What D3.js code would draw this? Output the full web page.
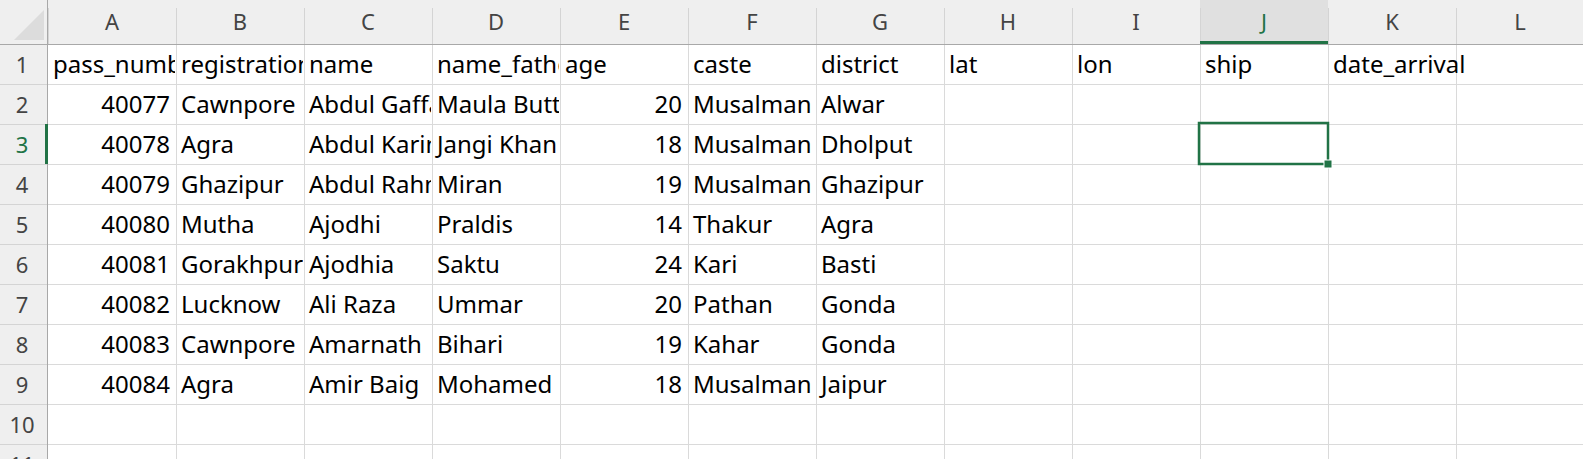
<!DOCTYPE html>
<html><head><meta charset="utf-8">
<script src="https://cdn.jsdelivr.net/npm/d3@7"></script>
<style>body{margin:0;background:#fff}svg{display:block}</style>
</head><body><svg id="sheet"></svg>
<script>
const colLetters = ["A","B","C","D","E","F","G","H","I","J","K","L"]
const rowNumbers = [1,2,3,4,5,6,7,8,9,10,11]
const headers = ["pass_number","registration","name","name_father","age","caste","district","lat","lon","ship","date_arrival"]
const passNumber = [40077,40078,40079,40080,40081,40082,40083,40084]
const registration = ["Cawnpore","Agra","Ghazipur","Mutha","Gorakhpur","Lucknow","Cawnpore","Agra"]
const names = ["Abdul Gaffar","Abdul Karim","Abdul Rahman","Ajodhi","Ajodhia","Ali Raza","Amarnath","Amir Baig"]
const nameFather = ["Maula Butt","Jangi Khan","Miran","Praldis","Saktu","Ummar","Bihari","Mohamed"]
const ages = [20,18,19,14,24,20,19,18]
const castes = ["Musalman","Musalman","Musalman","Thakur","Kari","Pathan","Kahar","Musalman"]
const districts = ["Alwar","Dholput","Ghazipur","Agra","Basti","Gonda","Gonda","Jaipur"]
const numericCols = [0,4]

const W = 1583, H = 459, rowHead = 48, colHead = 44, colW = 128, rowH = 40
const svg = d3.select("#sheet").attr("width", W).attr("height", H)
const font = "'Segoe UI','Noto Sans',sans-serif"

const x = d3.scaleBand().domain(colLetters).range([rowHead, rowHead + colW * colLetters.length])
const y = d3.scaleBand().domain(rowNumbers).range([colHead, colHead + rowH * rowNumbers.length])

// cell grid
const defs = svg.append("defs")
colLetters.forEach((c, i) => {
  defs.append("clipPath").attr("id", "clip" + i).append("rect")
    .attr("x", x(c)).attr("y", 0).attr("width", colW - 1).attr("height", H)
})
svg.append("g").selectAll("line.v").data(colLetters).enter().append("line")
  .attr("x1", d => x(d) + colW + 0.5).attr("x2", d => x(d) + colW + 0.5)
  .attr("y1", colHead).attr("y2", H).attr("stroke", "#dadada")
svg.append("g").selectAll("line.h").data(rowNumbers).enter().append("line")
  .attr("x1", rowHead).attr("x2", W)
  .attr("y1", d => y(d) + rowH + 0.5).attr("y2", d => y(d) + rowH + 0.5).attr("stroke", "#dadada")

// headers
svg.append("rect").attr("x", 0).attr("y", 0).attr("width", W).attr("height", colHead).attr("fill", "#efefef")
svg.append("rect").attr("x", 0).attr("y", 0).attr("width", rowHead).attr("height", H).attr("fill", "#efefef")
svg.append("rect").attr("x", x("J")).attr("y", 0).attr("width", colW).attr("height", colHead).attr("fill", "#e0e0e0")
svg.append("path").attr("d", `M14 40 L44 10 L44 40 Z`).attr("fill", "#dcdcdc")
svg.append("g").selectAll("line").data(colLetters).enter().append("line")
  .attr("x1", d => x(d) + 0.5).attr("x2", d => x(d) + 0.5).attr("y1", 8).attr("y2", colHead).attr("stroke", "#d4d4d4")
svg.append("g").selectAll("line").data(rowNumbers).enter().append("line")
  .attr("x1", 0).attr("x2", rowHead).attr("y1", d => y(d) + rowH + 0.5).attr("y2", d => y(d) + rowH + 0.5).attr("stroke", "#d4d4d4")
svg.append("line").attr("x1", 0).attr("x2", W).attr("y1", colHead + 0.5).attr("y2", colHead + 0.5).attr("stroke", "#a8a8a8")
svg.append("line").attr("x1", rowHead - 0.5).attr("x2", rowHead - 0.5).attr("y1", 0).attr("y2", H).attr("stroke", "#a8a8a8")
svg.append("rect").attr("x", x("J")).attr("y", colHead - 3).attr("width", colW).attr("height", 3).attr("fill", "#217346")
svg.append("rect").attr("x", rowHead - 3).attr("y", y(3)).attr("width", 3).attr("height", rowH).attr("fill", "#217346")

svg.append("g").selectAll("text").data(colLetters).enter().append("text")
  .attr("x", d => x(d) + colW / 2).attr("y", 30).attr("text-anchor", "middle")
  .attr("font-family", font).attr("font-size", 22)
  .attr("fill", d => d === "J" ? "#217346" : "#444").text(d => d)
svg.append("g").selectAll("text").data(rowNumbers).enter().append("text")
  .attr("x", 22).attr("y", d => y(d) + 29).attr("text-anchor", "middle")
  .attr("font-family", font).attr("font-size", 22)
  .attr("fill", d => d === 3 ? "#217346" : "#444").text(d => d)

// cell values
const columns = [passNumber, registration, names, nameFather, ages, castes, districts]
const cells = []
headers.forEach((h, i) => cells.push({ col: i, row: 1, v: h, num: false }))
columns.forEach((arr, i) => arr.forEach((v, j) => cells.push({ col: i, row: j + 2, v: v, num: numericCols.includes(i) })))

svg.append("g").selectAll("text").data(cells).enter().append("text")
  .attr("clip-path", d => d.num || d.col === headers.length - 1 ? null : `url(#clip${d.col})`)
  .attr("x", d => d.num ? x(colLetters[d.col]) + colW - 6 : x(colLetters[d.col]) + 5)
  .attr("y", d => y(d.row) + 29)
  .attr("text-anchor", d => d.num ? "end" : "start")
  .attr("font-family", font).attr("font-size", 24).attr("fill", "#000")
  .text(d => d.v)

// selected cell J3
svg.append("rect").attr("x", x("J") - 1).attr("y", y(3) - 1).attr("width", colW + 1).attr("height", rowH + 1)
  .attr("fill", "none").attr("stroke", "#217346").attr("stroke-width", 2.5)
svg.append("rect").attr("x", x("J") + colW - 4).attr("y", y(3) + rowH - 4).attr("width", 8).attr("height", 8)
  .attr("fill", "#217346").attr("stroke", "#fff").attr("stroke-width", 1)
</script></body></html>
